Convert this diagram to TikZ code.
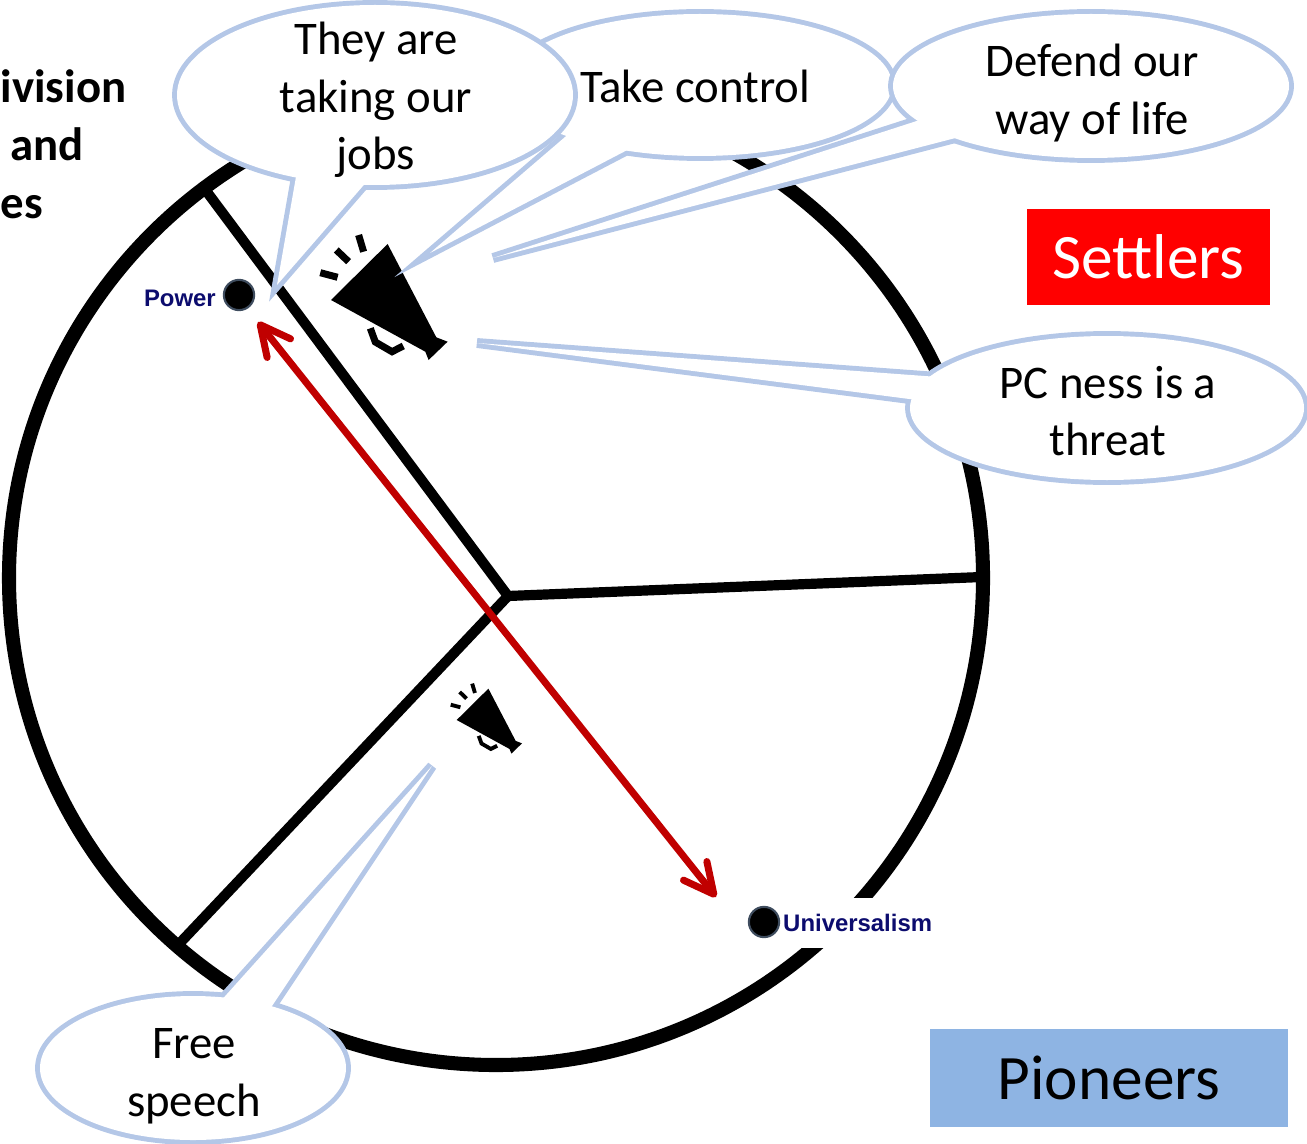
\documentclass[tikz,border=0pt]{standalone}
\usepackage{fontspec}
\setmainfont{Carlito}
\newfontfamily\labelfont{Liberation Sans}
\usetikzlibrary{arrows.meta}
\definecolor{bubbleblue}{HTML}{B4C7E7}
\definecolor{arrowred}{HTML}{C00000}
\definecolor{labelnavy}{HTML}{0C0C6E}
\definecolor{pioneerblue}{HTML}{8EB4E3}
\definecolor{dotrim}{HTML}{3E4C5E}

\begin{document}
\begin{tikzpicture}[x=0.01cm, y=-0.01cm,
  bubble edge/.style={draw=bubbleblue, line width=2.8pt},
  bubble text/.style={align=center, inner sep=0pt, font=\fontsize{13.3}{16.4}\selectfont},
  side text/.style={anchor=base west, inner sep=0pt, font=\fontsize{13.3}{16.4}\selectfont\bfseries},
  sector/.style={line width=2.9pt},
  dot/.style={circle, fill=black, draw=dotrim, line width=0.6pt, minimum size=8.6pt, inner sep=0pt},
  dot label/.style={inner sep=1pt, text=labelnavy, font=\labelfont\fontsize{6.8}{8}\selectfont\bfseries},
  red arrow/.style={draw=arrowred, line width=2pt,
    {Straight Barb[length=8.5pt, width=8.5pt, round]}-{Straight Barb[length=8.5pt, width=8.5pt, round]}},
  pics/megaphone/.style={code={
    \fill (0,0) -- (56.6,-56) -- (105.3,37.3) -- (116.6,41.7) -- (97.6,60) -- (94.3,51.7) -- cycle;
    \draw[line width=#1] (39.3,28.3) -- (44.3,42) -- (61,51.7) -- (72.3,46);
    \draw[line width=#1] (27.6,-65) -- (32.6,-48.3);
    \draw[line width=#1] (5.3,-50) -- (17.6,-38.3);
    \draw[line width=#1] (-10.7,-27.3) -- (6.6,-22.7);
  }}
]
  \useasboundingbox (0,0) rectangle (1307,1143);

  \coordinate (hub) at (508,596);
  \coordinate (rim top) at (204,188);
  \coordinate (rim right) at (982,577);
  \coordinate (rim low) at (178,945);
  \draw[sector] (hub) -- (rim top);
  \draw[sector] (hub) -- (rim right);
  \draw[sector] (hub) -- (rim low);
  \draw[line width=4pt] (496,578) circle [radius=487];

  \pic at (331,300) {megaphone=2pt};
  \pic[scale=0.56] at (456.7,720) {megaphone=1.1pt};

  \coordinate (power end) at (258,322);
  \coordinate (uni end) at (716,897);
  \draw[red arrow] (power end) -- (uni end);

  \node[dot label, anchor=east] (power) at (220,298) {Power};
  \node[dot] (power dot) at (239,295) {};
  \node[dot label, fill=white, anchor=west, minimum height=14.2pt] (uni) at (779,923) {Universalism};
  \node[dot] (uni dot) at (764,922) {};

  \coordinate (control c) at (700,85);
  \coordinate (control a) at (572,131);
  \coordinate (control b) at (635,146);
  \coordinate (control tip) at (430,253);
  \draw[bubble edge] (control c) ellipse [x radius=192, y radius=71];
  \draw[bubble edge] (control a) -- (control tip) -- (control b) -- cycle;
  \fill[white] (control c) ellipse [x radius=192, y radius=71];
  \fill[white] (control a) -- (control tip) -- (control b) -- cycle;
  \node[bubble text, anchor=base] (control) at (695,103) {Take control};

  \coordinate (jobs c) at (375,95);
  \coordinate (jobs a) at (297,171);
  \coordinate (jobs b) at (369,179);
  \coordinate (jobs tip) at (277,285);
  \draw[bubble edge] (jobs c) ellipse [x radius=198, y radius=90];
  \draw[bubble edge] (jobs a) -- (jobs tip) -- (jobs b) -- cycle;
  \fill[white] (jobs c) ellipse [x radius=198, y radius=90];
  \fill[white] (jobs a) -- (jobs tip) -- (jobs b) -- cycle;
  \node[bubble text] (jobs) at (376,100) {They are\\taking our\\jobs};

  \coordinate (defend c) at (1091,86);
  \coordinate (defend a) at (926,118);
  \coordinate (defend b) at (967,135);
  \coordinate (defend tip) at (493,258);
  \draw[bubble edge] (defend c) ellipse [x radius=198, y radius=72];
  \draw[bubble edge] (defend a) -- (defend tip) -- (defend b) -- cycle;
  \fill[white] (defend c) ellipse [x radius=198, y radius=72];
  \fill[white] (defend a) -- (defend tip) -- (defend b) -- cycle;
  \node[bubble text] (defend) at (1092,93) {Defend our\\way of life};

  \coordinate (threat c) at (1107,408);
  \coordinate (threat a) at (938,377);
  \coordinate (threat b) at (917,400);
  \coordinate (threat tip) at (477,343);
  \draw[bubble edge] (threat c) ellipse [x radius=197, y radius=72];
  \draw[bubble edge] (threat a) -- (threat tip) -- (threat b) -- cycle;
  \fill[white] (threat c) ellipse [x radius=197, y radius=72];
  \fill[white] (threat a) -- (threat tip) -- (threat b) -- cycle;
  \node[bubble text] (threat) at (1108,411) {PC ness is a\\threat};

  \coordinate (speech c) at (193,1068);
  \coordinate (speech a) at (218,1004);
  \coordinate (speech b) at (268,1012);
  \coordinate (speech tip) at (432,766);
  \draw[bubble edge] (speech c) ellipse [x radius=153, y radius=72];
  \draw[bubble edge] (speech a) -- (speech tip) -- (speech b) -- cycle;
  \fill[white] (speech c) ellipse [x radius=153, y radius=72];
  \fill[white] (speech a) -- (speech tip) -- (speech b) -- cycle;
  \node[bubble text] (speech) at (194,1076) {Free\\speech};

  \node[side text] (title1) at (0,103) {ivision};
  \node[side text] (title2) at (10,161) {and};
  \node[side text] (title3) at (0,219) {es};

  \node[fill=red, minimum width=69.1pt, minimum height=27.3pt, text=white,
        font=\fontsize{18}{20}\selectfont] (settlers) at (1148.5,257) {Settlers};
  \node[fill=pioneerblue, minimum width=101.9pt, minimum height=27.9pt,
        font=\fontsize{18}{20}\selectfont] (pioneers) at (1109,1078) {Pioneers};
\end{tikzpicture}
\end{document}
